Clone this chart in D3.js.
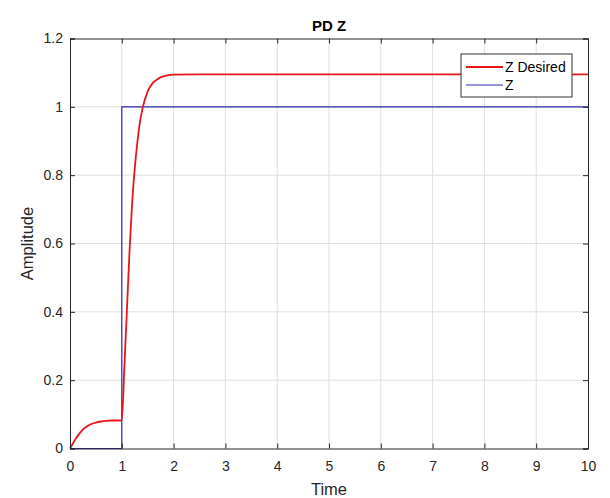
<!DOCTYPE html>
<html>
<head>
<meta charset="utf-8">
<script src="https://cdn.jsdelivr.net/npm/d3@7"></script>
<style>
  body { margin: 0; background: #fff; }
  svg { font-family: "Liberation Sans", Arial, sans-serif; }
</style>
</head>
<body>
<svg id="chart" width="610" height="498"></svg>
<script>
var timeDesired = [0, 0.05, 0.1, 0.15, 0.2, 0.3, 0.4, 0.5, 0.6, 0.7, 0.8, 1.0,
  1.05, 1.1, 1.15, 1.2, 1.25, 1.3, 1.35, 1.4, 1.5, 1.6, 1.7, 1.8, 2.0, 2.5, 10];
var zDesired = [0, 0.013, 0.026, 0.037, 0.047, 0.062, 0.071, 0.076, 0.079, 0.081, 0.082, 0.082,
  0.24, 0.41, 0.58, 0.72, 0.82, 0.895, 0.955, 0.995, 1.045, 1.07, 1.082, 1.089, 1.094, 1.095, 1.095];
var timeZ = [0, 1, 1, 10];
var zValues = [0, 0, 1, 1];
var xTicks = [0, 1, 2, 3, 4, 5, 6, 7, 8, 9, 10];
var yTicks = [0, 0.2, 0.4, 0.6, 0.8, 1, 1.2];
var seriesNames = ["Z Desired", "Z"];
var seriesColors = ["#e8161a", "#2b2bb0"];

var svg = d3.select("#chart");
// note: "top" is taken by window.top
var pLeft = 70, pRight = 588, pTop = 38.5, pBottom = 448.5;

var x = d3.scaleLinear().domain([0, 10]).range([pLeft, pRight]);
var y = d3.scaleLinear().domain([0, 1.2]).range([pBottom, pTop]);

// grid
svg.append("g").selectAll("line").data(xTicks.slice(1, -1)).join("line")
  .attr("x1", d => x(d)).attr("x2", d => x(d))
  .attr("y1", pTop).attr("y2", pBottom)
  .attr("stroke", "#dfdfdf").attr("stroke-width", 1);
svg.append("g").selectAll("line").data(yTicks.slice(1, -1)).join("line")
  .attr("y1", d => y(d)).attr("y2", d => y(d))
  .attr("x1", pLeft).attr("x2", pRight)
  .attr("stroke", "#dfdfdf").attr("stroke-width", 1);

// lines
var lineD = d3.line().x((d, i) => x(timeDesired[i])).y(d => y(d)).curve(d3.curveMonotoneX);
var lineZ = d3.line().x((d, i) => x(timeZ[i])).y(d => y(d));

svg.append("path").datum(zValues).attr("d", lineZ)
  .attr("fill", "none").attr("stroke", seriesColors[1]).attr("stroke-width", 1.2);
svg.append("path").datum(zDesired).attr("d", lineD)
  .attr("fill", "none").attr("stroke", seriesColors[0]).attr("stroke-width", 1.8);

// axes, ticks inward as in matlab
var axisColor = "#262626";
var xb = svg.append("g").attr("transform", "translate(0," + pBottom + ")")
  .call(d3.axisBottom(x).tickValues(xTicks).tickSize(-5).tickPadding(13).tickFormat(d3.format("d")));
var xt = svg.append("g").attr("transform", "translate(0," + pTop + ")")
  .call(d3.axisTop(x).tickValues(xTicks).tickSize(-5).tickFormat(""));
var yl = svg.append("g").attr("transform", "translate(" + pLeft + ",0)")
  .call(d3.axisLeft(y).tickValues(yTicks).tickSize(-5).tickPadding(7).tickFormat(d => d));
var yr = svg.append("g").attr("transform", "translate(" + pRight + ",0)")
  .call(d3.axisRight(y).tickValues(yTicks).tickSize(-5).tickFormat(""));
[xb, xt, yl, yr].forEach(function(g) {
  g.selectAll("path").attr("stroke", axisColor);
  g.selectAll("line").attr("stroke", axisColor);
  g.selectAll("text").attr("fill", axisColor).style("font-size", "14px");
});

// labels
svg.append("text").attr("x", (pLeft + pRight) / 2).attr("y", 31)
  .attr("text-anchor", "middle").style("font-size", "15px").style("font-weight", "bold")
  .attr("fill", "#000").text("PD Z");
svg.append("text").attr("x", (pLeft + pRight) / 2).attr("y", 495)
  .attr("text-anchor", "middle").style("font-size", "16.5px").attr("fill", axisColor).text("Time");
svg.append("text").attr("transform", "translate(33," + (pTop + pBottom) / 2 + ") rotate(-90)")
  .attr("text-anchor", "middle").style("font-size", "16.5px").attr("fill", axisColor).text("Amplitude");

// legend
var lg = svg.append("g").attr("transform", "translate(461,54)");
lg.append("rect").attr("width", 111).attr("height", 43)
  .attr("fill", "#fff").attr("stroke", "#333").attr("stroke-width", 1);
seriesNames.forEach(function(name, i) {
  var yy = 13 + i * 18;
  lg.append("line").attr("x1", 5).attr("x2", 42).attr("y1", yy).attr("y2", yy)
    .attr("stroke", seriesColors[i]).attr("stroke-width", i == 0 ? 1.8 : 1.2);
  lg.append("text").attr("x", 44).attr("y", yy + 5)
    .style("font-size", "14px").attr("fill", "#000").text(name);
});
</script>
</body>
</html>
